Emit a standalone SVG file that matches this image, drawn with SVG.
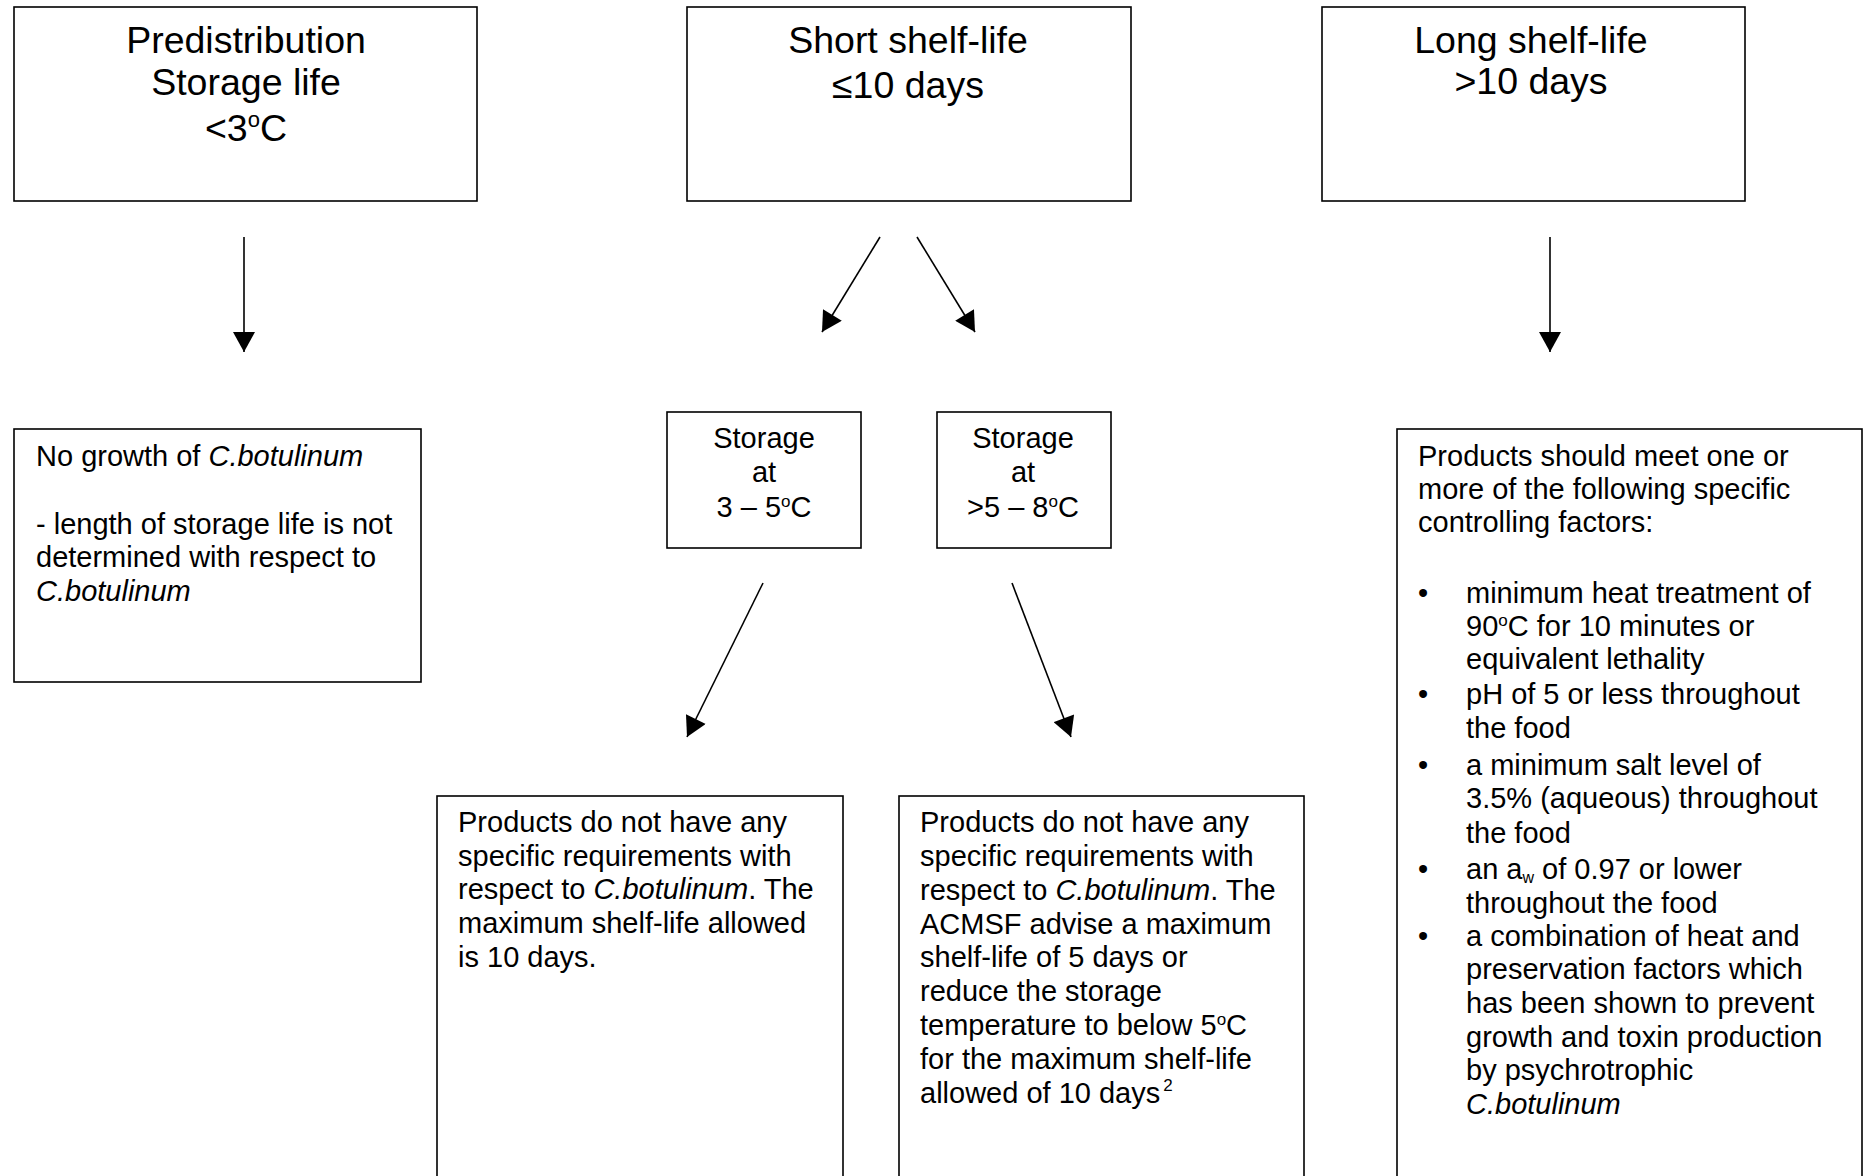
<svg xmlns="http://www.w3.org/2000/svg" width="1865" height="1176" viewBox="0 0 1865 1176">
<style>
.box{fill:#fff;stroke:#000;stroke-width:1.6}
text{font-family:"Liberation Sans",Arial,sans-serif;fill:#000}
.t{font-size:37.5px;text-anchor:middle}
.b{font-size:29px}
.m{font-size:29px;text-anchor:middle}
.i{font-style:italic}
.c{stroke:#000;stroke-width:1.6;fill:none;marker-end:url(#ah)}
</style>
<defs>
<marker id="ah" markerUnits="userSpaceOnUse" markerWidth="21" markerHeight="22" viewBox="0 0 20 22" refX="20" refY="11" orient="auto"><path d="M0,0 L20,11 L0,22 z" fill="#000"/></marker>
</defs>
<rect width="1865" height="1176" fill="#fff"/>

<g id="connectors">
<line class="c" x1="244" y1="237" x2="244" y2="352"/>
<line class="c" x1="880" y1="237" x2="822" y2="332"/>
<line class="c" x1="917" y1="237" x2="975" y2="332"/>
<line class="c" x1="1550" y1="237" x2="1550" y2="352"/>
<line class="c" x1="763" y1="583" x2="687" y2="737"/>
<line class="c" x1="1012" y1="583" x2="1071" y2="737"/>
</g>

<g id="predistribution">
<rect class="box" x="14" y="7" width="463" height="194"/>
<text class="t" x="246" y="53">Predistribution</text>
<text class="t" x="246" y="95">Storage life</text>
<text class="t" x="246" y="141">&lt;3<tspan font-size="22" dy="-14">o</tspan><tspan dy="14">C</tspan></text>
</g>

<g id="short">
<rect class="box" x="687" y="7" width="444" height="194"/>
<text class="t" x="908" y="53">Short shelf-life</text>
<text class="t" x="908" y="98">≤10 days</text>
</g>

<g id="long">
<rect class="box" x="1322" y="7" width="423" height="194"/>
<text class="t" x="1531" y="53">Long shelf-life</text>
<text class="t" x="1531" y="94">&gt;10 days</text>
</g>

<g id="nogrowth">
<rect class="box" x="14" y="429" width="407" height="253"/>
<text class="b" x="36" y="466">No growth of <tspan class="i">C.botulinum</tspan></text>
<text class="b" x="36" y="534">- length of storage life is not</text>
<text class="b" x="36" y="567">determined with respect to</text>
<text class="b i" x="36" y="601">C.botulinum</text>
</g>

<g id="storage35">
<rect class="box" x="667" y="412" width="194" height="136"/>
<text class="m" x="764" y="448">Storage</text>
<text class="m" x="764" y="482">at</text>
<text class="m" x="764" y="517">3 – 5<tspan font-size="17" dy="-10">o</tspan><tspan dy="10">C</tspan></text>
</g>

<g id="storage58">
<rect class="box" x="937" y="412" width="174" height="136"/>
<text class="m" x="1023" y="448">Storage</text>
<text class="m" x="1023" y="482">at</text>
<text class="m" x="1023" y="517">&gt;5 – 8<tspan font-size="17" dy="-10">o</tspan><tspan dy="10">C</tspan></text>
</g>

<g id="req10">
<rect class="box" x="437" y="796" width="406" height="420"/>
<text class="b" x="458" y="832">Products do not have any</text>
<text class="b" x="458" y="865.5">specific requirements with</text>
<text class="b" x="458" y="899">respect to <tspan class="i">C.botulinum</tspan>. The</text>
<text class="b" x="458" y="932.5">maximum shelf-life allowed</text>
<text class="b" x="458" y="967">is 10 days.</text>
</g>

<g id="req5">
<rect class="box" x="899" y="796" width="405" height="420"/>
<text class="b" x="920" y="832">Products do not have any</text>
<text class="b" x="920" y="866">specific requirements with</text>
<text class="b" x="920" y="900">respect to <tspan class="i">C.botulinum</tspan>. The</text>
<text class="b" x="920" y="933.5">ACMSF advise a maximum</text>
<text class="b" x="920" y="967">shelf-life of 5 days or</text>
<text class="b" x="920" y="1001">reduce the storage</text>
<text class="b" x="920" y="1035">temperature to below 5<tspan font-size="17" dy="-10">o</tspan><tspan dy="10">C</tspan></text>
<text class="b" x="920" y="1069">for the maximum shelf-life</text>
<text class="b" x="920" y="1103">allowed of 10 days<tspan font-size="17" dx="3" dy="-12">2</tspan></text>
</g>

<g id="longreq">
<rect class="box" x="1397" y="429" width="465" height="800"/>
<text class="b" x="1418" y="466">Products should meet one or</text>
<text class="b" x="1418" y="499">more of the following specific</text>
<text class="b" x="1418" y="532">controlling factors:</text>
<text class="b" x="1418" y="603">•</text>
<text class="b" x="1466" y="603">minimum heat treatment of</text>
<text class="b" x="1466" y="636">90<tspan font-size="17" dy="-10">o</tspan><tspan dy="10">C for 10 minutes or</tspan></text>
<text class="b" x="1466" y="669">equivalent lethality</text>
<text class="b" x="1418" y="704">•</text>
<text class="b" x="1466" y="704">pH of 5 or less throughout</text>
<text class="b" x="1466" y="738">the food</text>
<text class="b" x="1418" y="775">•</text>
<text class="b" x="1466" y="775">a minimum salt level of</text>
<text class="b" x="1466" y="808">3.5% (aqueous) throughout</text>
<text class="b" x="1466" y="843">the food</text>
<text class="b" x="1418" y="879">•</text>
<text class="b" x="1466" y="879">an a<tspan font-size="16" dy="4">w</tspan><tspan dy="-4"> of 0.97 or lower</tspan></text>
<text class="b" x="1466" y="913">throughout the food</text>
<text class="b" x="1418" y="946">•</text>
<text class="b" x="1466" y="946">a combination of heat and</text>
<text class="b" x="1466" y="979">preservation factors which</text>
<text class="b" x="1466" y="1013">has been shown to prevent</text>
<text class="b" x="1466" y="1047">growth and toxin production</text>
<text class="b" x="1466" y="1080">by psychrotrophic</text>
<text class="b i" x="1466" y="1114">C.botulinum</text>
</g>
</svg>
